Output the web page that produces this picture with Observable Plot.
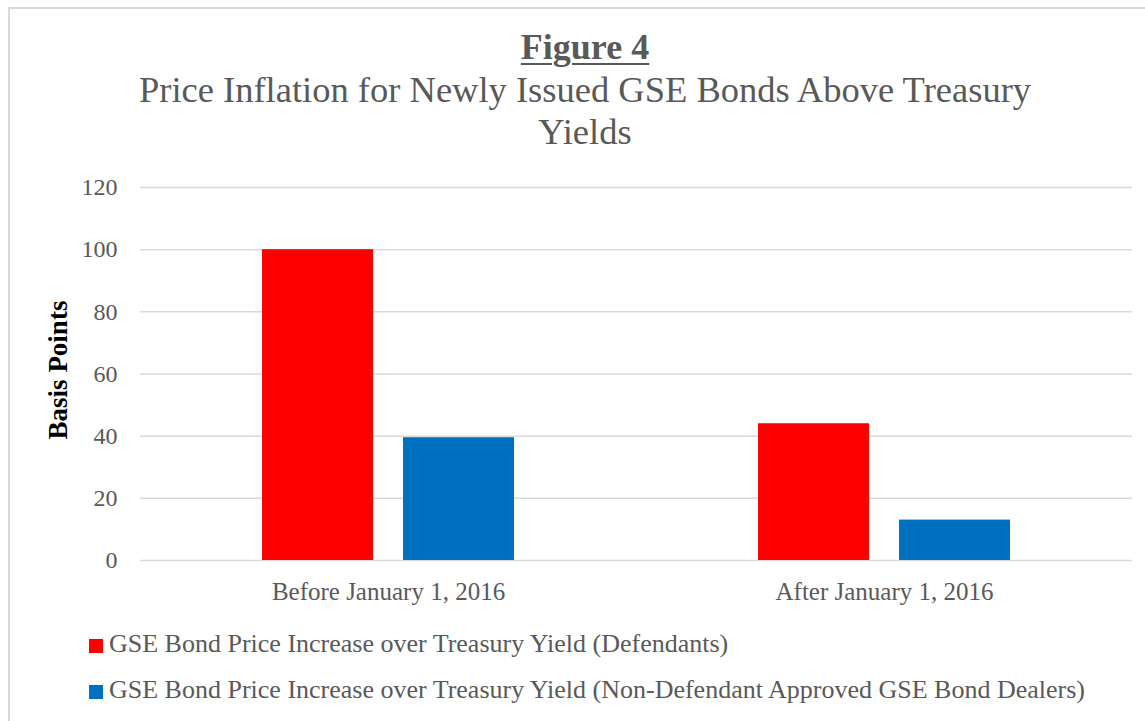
<!DOCTYPE html>
<html>
<head>
<meta charset="utf-8">
<script src="https://cdn.jsdelivr.net/npm/d3@7"></script>
<script src="https://cdn.jsdelivr.net/npm/@observablehq/plot@0.6"></script>
<style>
  html, body { margin: 0; padding: 0; background: #fff; overflow: hidden; }
  #wrap { position: relative; width: 1145px; height: 721px; overflow: hidden; font-family: "Liberation Serif", "DejaVu Serif", serif; color: #595959; }
  #frame { position: absolute; left: 8px; top: 7px; width: 1160px; height: 740px; border: 2px solid #d9d9d9; box-sizing: border-box; }
  .center { position: absolute; left: 0; width: 1170px; text-align: center; white-space: nowrap; }
  #fig { top: 29px; font-size: 36px; line-height: 36px; font-weight: bold; text-decoration: underline; text-decoration-thickness: 2px; text-underline-offset: 4px; }
  #sub { top: 69px; font-size: 36.5px; line-height: 42px; }
  #ylab { position: absolute; left: 58px; top: 370px; transform: translate(-50%, -50%) rotate(-90deg); font-size: 27px; line-height: 27px; font-weight: bold; color: #000; white-space: nowrap; }
  #plot { position: absolute; left: 0; top: 170px; }
  .sw { position: absolute; left: 89px; width: 14px; height: 14px; }
  .lt { position: absolute; left: 109px; font-size: 26px; line-height: 30px; white-space: nowrap; }
  g[aria-label="fx-axis tick label"] { font-size: 25px; }
</style>
</head>
<body>
<div id="wrap">
  <div id="frame"></div>
  <div id="fig" class="center">Figure 4</div>
  <div id="sub" class="center">Price Inflation for Newly Issued GSE Bonds Above Treasury<br>Yields</div>
  <div id="ylab">Basis Points</div>
  <div id="plot"></div>
  <div id="legend"></div>
</div>
<script>
const periods = ["Before January 1, 2016", "After January 1, 2016"];
const seriesNames = [
  "GSE Bond Price Increase over Treasury Yield (Defendants)",
  "GSE Bond Price Increase over Treasury Yield (Non-Defendant Approved GSE Bond Dealers)"
];
const seriesColors = ["#FF0000", "#0070C0"];
const defendants = [100, 44];
const nonDefendants = [39.5, 13];
const yTicks = [0, 20, 40, 60, 80, 100, 120];

const data = [];
periods.forEach((p, i) => {
  data.push({period: p, series: seriesNames[0], value: defendants[i]});
  data.push({period: p, series: seriesNames[1], value: nonDefendants[i]});
});

const chart = Plot.plot({
  width: 1145,
  height: 440,
  marginTop: 17,
  marginBottom: 50,
  marginLeft: 140,
  marginRight: 13,
  style: {fontFamily: "'Liberation Serif', 'DejaVu Serif', serif", fontSize: "24px", color: "#595959", background: "transparent", overflow: "visible"},
  fx: {domain: periods, padding: 0, axis: "bottom", tickSize: 0, tickPadding: 22, label: null},
  x: {domain: seriesNames, paddingInner: 0.213, paddingOuter: 0.862, axis: null},
  y: {domain: [0, 120], ticks: yTicks, tickSize: 0, tickPadding: 23, label: null, line: false},
  color: {domain: seriesNames, range: seriesColors},
  marks: [
    Plot.ruleY(yTicks, {stroke: "#d9d9d9", strokeWidth: 1.5}),
    Plot.barY(data, {fx: "period", x: "series", y: "value", fill: "series"})
  ]
});
document.getElementById("plot").appendChild(chart);

const legend = document.getElementById("legend");
const rowTops = [639, 685];
seriesNames.forEach((name, i) => {
  const sw = document.createElement("div");
  sw.className = "sw";
  sw.style.top = rowTops[i] + "px";
  sw.style.background = seriesColors[i];
  legend.appendChild(sw);
  const t = document.createElement("div");
  t.className = "lt";
  t.style.top = (rowTops[i] + 14 - 24) + "px";
  t.textContent = name;
  legend.appendChild(t);
});
</script>
</body>
</html>
